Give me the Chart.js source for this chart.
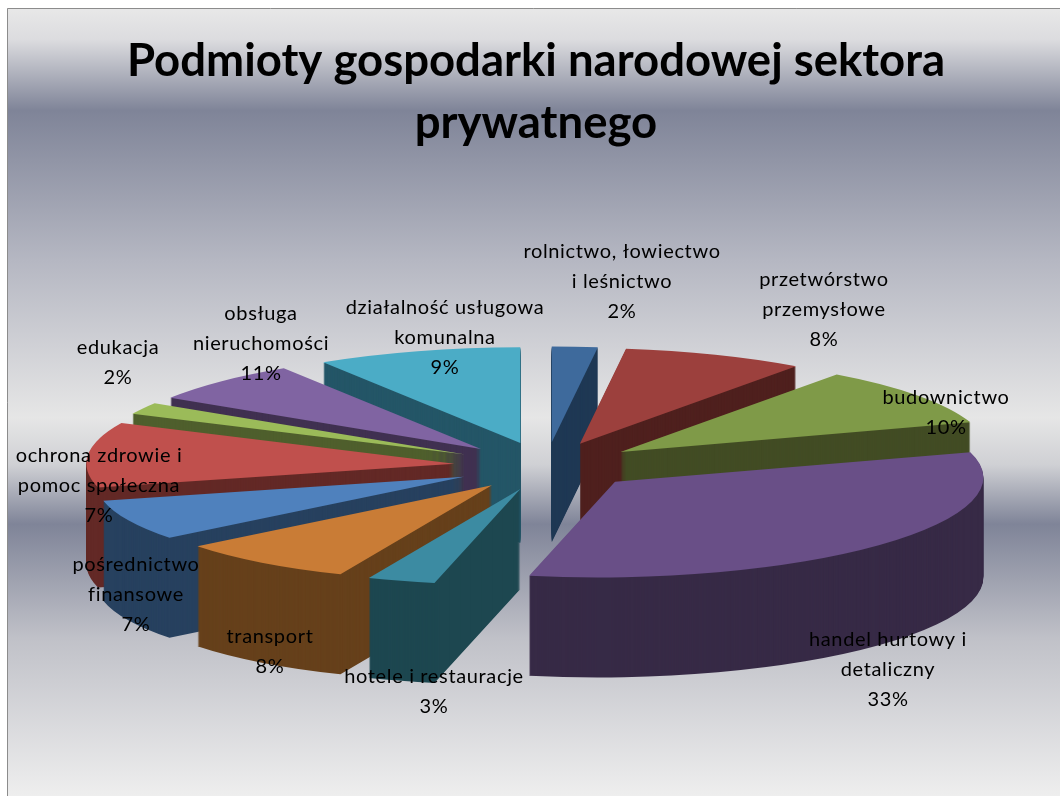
<!DOCTYPE html>
<html lang="pl">
<head>
<meta charset="utf-8">
<title>Podmioty gospodarki narodowej</title>
<script src="https://cdn.jsdelivr.net/npm/chart.js@4"></script>
<style>
    html, body { margin: 0; padding: 0; background: #fff; overflow: hidden; }
    canvas { display: block; }
</style>
</head>
<body>
<canvas id="pieChart" width="1060" height="796"></canvas>
<script>
var titleLines = ['Podmioty gospodarki narodowej sektora', 'prywatnego'];
var categories = [
    'rolnictwo, łowiectwo i leśnictwo',
    'przetwórstwo przemysłowe',
    'budownictwo',
    'handel hurtowy i detaliczny',
    'hotele i restauracje',
    'transport',
    'pośrednictwo finansowe',
    'ochrona zdrowie i pomoc społeczna',
    'edukacja',
    'obsługa nieruchomości',
    'działalność usługowa komunalna'
];
// sizes as the slices are drawn in the picture
var sliceShares = [2, 8, 10, 33, 3, 8, 7, 11, 2, 7, 9];
// percentages as printed next to the slices (ochrona and obsługa differ from the drawn sizes)
var printedShares = [2, 8, 10, 33, 3, 8, 7, 7, 2, 11, 9];

var topColors = ['#3e6a9c', '#9c403d', '#7f9a48', '#694f87', '#3c8ba2', '#c97c36', '#4f81bd', '#c0504d', '#9bbb59', '#8064a2', '#4bacc6'];
var wallColors = ['#1f3854', '#4f201e', '#424c24', '#372a46', '#1d4750', '#66401b', '#27415f', '#632926', '#4f5f2d', '#403151', '#245667'];

// wrapped label text, same order as categories
var labelLines = [
    ['rolnictwo, łowiectwo', 'i leśnictwo'],
    ['przetwórstwo', 'przemysłowe'],
    ['budownictwo'],
    ['handel hurtowy i', 'detaliczny'],
    ['hotele i restauracje'],
    ['transport'],
    ['pośrednictwo', 'finansowe'],
    ['ochrona zdrowie i', 'pomoc społeczna'],
    ['edukacja'],
    ['obsługa', 'nieruchomości'],
    ['działalność usługowa', 'komunalna']
];
var labelX = [622, 824, 946, 888, 434, 270, 136, 99, 118, 261, 445];
var labelY = [252, 280, 398, 640, 677, 637, 565, 456, 348, 314, 308];

// back slices first so the front ones cover their walls
var drawOrder = [0, 10, 1, 9, 2, 8, 7, 6, 5, 3, 4];

var pieCenterX = 546;
var pieCenterY = 466;
var tilt = 0.26;
var depth = 100;
var explode = 92;
var frontLean = 0.18; // front slices lean left on screen, like the perspective in the original

var backdrop = {
    id: 'backdrop',
    beforeDraw: function (chart) {
        var ctx = chart.ctx;
        var g = ctx.createLinearGradient(0, 8, 0, 796);
        g.addColorStop(0, '#e8e8e8');
        g.addColorStop(0.04, '#dcdcdf');
        g.addColorStop(0.13, '#7f8498');
        g.addColorStop(0.32, '#b5b7c2');
        g.addColorStop(0.52, '#e6e6e6');
        g.addColorStop(0.58, '#cfd0d4');
        g.addColorStop(0.655, '#7f8498');
        g.addColorStop(0.8, '#c0c1c8');
        g.addColorStop(1, '#eeeeee');
        ctx.save();
        ctx.fillStyle = g;
        ctx.fillRect(7, 8, 1053, 788);
        ctx.strokeStyle = '#8c8c8c';
        ctx.lineWidth = 1;
        ctx.beginPath();
        ctx.moveTo(7.5, 796);
        ctx.lineTo(7.5, 8.5);
        ctx.lineTo(1060, 8.5);
        ctx.stroke();
        ctx.restore();
    }
};

// squash the pie to an ellipse, pull the slices apart and extrude them downwards
var tiltedPie = {
    id: 'tiltedPie',
    beforeDatasetDraw: function (chart) {
        var ctx = chart.ctx;
        var arcs = chart.getDatasetMeta(0).data;
        var step = 1 / tilt;

        function drawSheared(arc, mid) {
            ctx.save();
            if (Math.sin(mid) > 0) {
                // shear around the slice tip, in the squashed plane
                ctx.translate(arc.x, arc.y);
                ctx.transform(1, 0, -frontLean * tilt, 1, 0, 0);
                ctx.translate(-arc.x, -arc.y);
            }
            arc.draw(ctx);
            ctx.restore();
        }

        ctx.save();
        ctx.translate(pieCenterX, pieCenterY);
        ctx.scale(1, tilt);
        ctx.translate(-arcs[0].x, -arcs[0].y);
        drawOrder.forEach(function (i) {
            var arc = arcs[i];
            var own = arc.options;
            var mid = (arc.startAngle + arc.endAngle) / 2;
            ctx.save();
            ctx.translate(Math.cos(mid) * explode, Math.sin(mid) * explode);
            ctx.save();
            arc.options = Object.assign({}, own, { backgroundColor: wallColors[i] });
            ctx.translate(0, depth * step);
            for (var d = depth; d > 0; d--) {
                drawSheared(arc, mid);
                ctx.translate(0, -step);
            }
            ctx.restore();
            arc.options = own;
            drawSheared(arc, mid);
            ctx.restore();
        });
        ctx.restore();
        return false;
    }
};

var sliceLabels = {
    id: 'sliceLabels',
    afterDraw: function (chart) {
        var ctx = chart.ctx;
        ctx.save();
        ctx.font = '20px Lato';
        ctx.letterSpacing = '0.65px';
        ctx.fillStyle = '#000';
        ctx.textAlign = 'center';
        ctx.textBaseline = 'middle';
        labelLines.forEach(function (lines, i) {
            lines.concat(printedShares[i] + '%').forEach(function (line, n) {
                ctx.fillText(line, labelX[i], labelY[i] + n * 30);
            });
        });
        ctx.restore();
    }
};

var chart = new Chart(document.getElementById('pieChart').getContext('2d'), {
    type: 'pie',
    data: {
        labels: categories,
        datasets: [{
            data: sliceShares,
            backgroundColor: topColors,
            borderWidth: 0,
            radius: 368
        }]
    },
    options: {
        responsive: false,
        animation: false,
        events: [],
        layout: { padding: { left: 12 } },
        plugins: {
            legend: { display: false },
            tooltip: { enabled: false },
            title: {
                display: true,
                text: titleLines,
                color: '#000',
                font: { family: 'Lato', size: 45.5, weight: 'bold', lineHeight: 1.37 },
                padding: { top: 30, bottom: 0 }
            }
        }
    },
    plugins: [backdrop, tiltedPie, sliceLabels]
});
</script>
</body>
</html>
